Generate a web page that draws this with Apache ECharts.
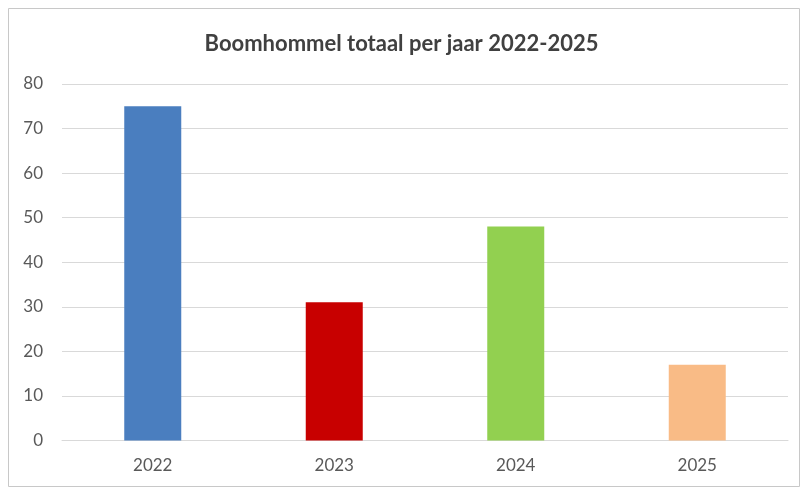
<!DOCTYPE html>
<html>
<head>
<meta charset="utf-8">
<script src="https://cdn.jsdelivr.net/npm/echarts@6/dist/echarts.min.js"></script>
<style>
html,body{margin:0;padding:0;background:#fff;}
#c{width:803px;height:488px;}
</style>
</head>
<body>
<div id="c"></div>
<script>
const categories = ['2022', '2023', '2024', '2025'];
const values = [75, 31, 48, 17];
const barColors = ['#4a7ebf', '#c80000', '#92d050', '#f9bb86'];
const titleText = 'Boomhommel totaal per jaar 2022-2025';

const chart = echarts.init(document.getElementById('c'));
chart.setOption({
  animation: false,
  backgroundColor: '#ffffff',
  title: {
    text: titleText,
    left: 'center',
    top: 28,
    textStyle: { fontFamily: 'Lato', fontWeight: 'bold', fontSize: 22, color: '#404040' }
  },
  graphic: [{
    type: 'rect',
    shape: { x: 8.5, y: 8.5, width: 791, height: 478 },
    style: { fill: 'none', stroke: '#c8c8c8', lineWidth: 1 },
    silent: true
  }],
  grid: { left: 62, right: 15, top: 84, bottom: 47.5 },
  xAxis: {
    type: 'category',
    data: categories,
    axisTick: { show: false },
    axisLine: { lineStyle: { color: '#d9d9d9', width: 1 } },
    axisLabel: { color: '#595959', fontFamily: 'Lato', fontSize: 17, margin: 17 }
  },
  yAxis: {
    type: 'value',
    min: 0, max: 80, interval: 10,
    axisLine: { show: false },
    axisTick: { show: false },
    splitLine: { lineStyle: { color: '#d9d9d9', width: 1 } },
    axisLabel: { color: '#595959', fontFamily: 'Lato', fontSize: 17, margin: 19 }
  },
  series: [{
    type: 'bar',
    data: values.map((v, i) => ({ value: v, itemStyle: { color: barColors[i] } })),
    barWidth: 57
  }]
});
</script>
</body>
</html>
